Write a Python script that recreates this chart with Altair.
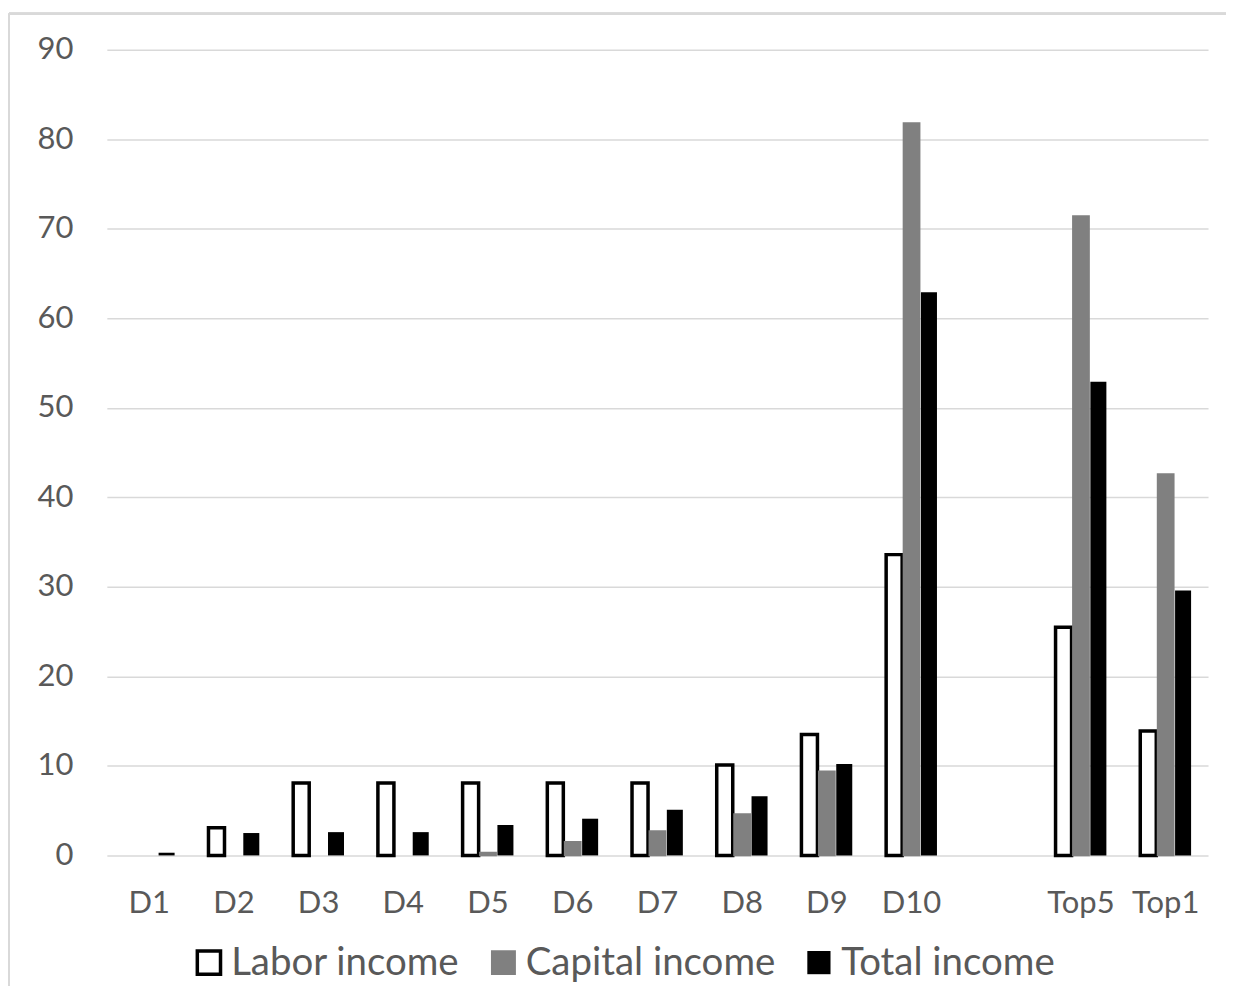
import altair as alt
import pandas as pd

categories = ["D1", "D2", "D3", "D4", "D5", "D6", "D7", "D8", "D9", "D10", " ", "Top5", "Top1"]
groups = ["D1", "D2", "D3", "D4", "D5", "D6", "D7", "D8", "D9", "D10", "Top5", "Top1"]
labor = [None, 3.1, 8.1, 8.1, 8.1, 8.1, 8.1, 10.1, 13.5, 33.6, 25.5, 13.9]
capital = [None, None, None, None, 0.3, 1.5, 2.7, 4.6, 9.4, 81.8, 71.4, 42.6]
total = [0.3, 2.5, 2.6, 2.6, 3.4, 4.1, 5.1, 6.6, 10.2, 62.9, 52.9, 29.6]
series = ["Labor income", "Capital income", "Total income"]

rows = []
for i, g in enumerate(groups):
    for s, vals in zip(series, [labor, capital, total]):
        if vals[i] is not None:
            rows.append({"group": g, "series": s, "value": vals[i]})
df = pd.DataFrame(rows)

FONT = "Lato"
GREY_TXT = "#595959"


def leg():
    return alt.Legend(title=None, orient="none", direction="horizontal",
                      legendX=83, legendY=895, symbolType="square", symbolSize=540,
                      labelFontSize=38.5, labelColor=GREY_TXT, labelFont=FONT, labelLimit=0,
                      columnPadding=24, labelOffset=3, padding=0)


bars = alt.Chart(df).mark_bar().encode(
    x=alt.X("group:N", scale=alt.Scale(domain=categories, paddingInner=0.4, paddingOuter=0.2),
            axis=alt.Axis(title=None, labelAngle=0, domain=False, ticks=False, labelPadding=33,
                          labelFontSize=31, labelColor=GREY_TXT, labelFont=FONT)),
    xOffset=alt.XOffset("series:N", scale=alt.Scale(domain=series, paddingInner=0.08)),
    y=alt.Y("value:Q", scale=alt.Scale(domain=[0, 90]),
            axis=alt.Axis(title=None, values=list(range(0, 91, 10)), domain=False, ticks=False,
                          labelPadding=34, labelFontSize=31, labelColor=GREY_TXT, labelFont=FONT,
                          gridColor="#d9d9d9", gridWidth=1.5)),
    color=alt.Color("series:N", scale=alt.Scale(domain=series, range=["white", "#808080", "black"]),
                    legend=leg()),
    stroke=alt.Stroke("series:N", scale=alt.Scale(domain=series, range=["black", "#808080", "black"]),
                      legend=leg()),
    strokeWidth=alt.StrokeWidth("series:N", scale=alt.Scale(domain=series, range=[3.5, 0, 0]),
                                legend=leg()),
)

border_top = alt.Chart(df).mark_rule(color="#d9d9d9", strokeWidth=2).encode(
    x=alt.value(-98), x2=alt.value(1130), y=alt.value(-36))
border_left = alt.Chart(df).mark_rule(color="#d9d9d9", strokeWidth=2).encode(
    x=alt.value(-98), y=alt.value(-36), y2=alt.value(960))

chart = alt.layer(border_top, border_left, bars).properties(
    width=1103, height=807,
    autosize=alt.AutoSizeParams(type="none"),
    padding={"left": 99, "top": 41, "right": 18, "bottom": 130},
).configure(font=FONT).configure_view(stroke=None)

chart.save("out.html", embed_options={"renderer": "svg", "actions": False})
